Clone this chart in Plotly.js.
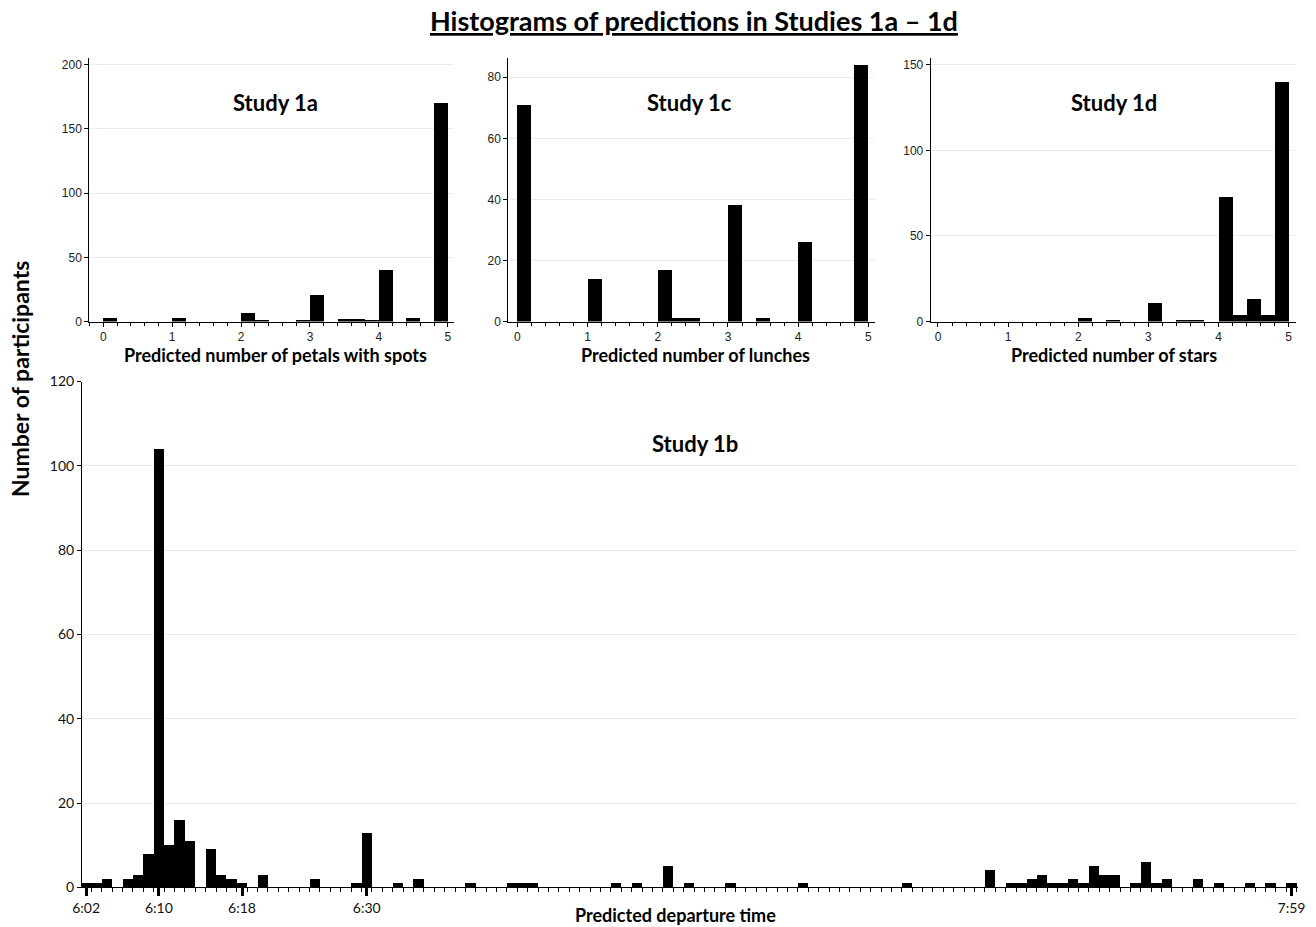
<!DOCTYPE html>
<html>
<head>
<meta charset="utf-8">
<script src="https://cdn.plot.ly/plotly-3.0.1.min.js"></script>
<style>html,body{margin:0;padding:0;background:#fff;}#chart{width:1316px;height:927px;}</style>
</head>
<body>
<div id="chart"></div>
<script>
// ---- Data (bin start values and counts, bin width 0.2) ----
const study1aBins   = [0, 1, 2, 2.2, 2.8, 3, 3.4, 3.6, 3.8, 4, 4.4, 4.8];
const study1aCounts = [3, 3, 7, 1, 1, 21, 2, 2, 1, 40, 3, 170];

const study1cBins   = [0, 1, 2, 2.2, 2.4, 3, 3.4, 4, 4.8];
const study1cCounts = [71, 14, 17, 1, 1, 38, 1, 26, 84];

const study1dBins   = [2, 2.4, 3, 3.4, 3.6, 4, 4.2, 4.4, 4.6, 4.8];
const study1dCounts = [2, 1, 11, 1, 1, 73, 4, 13, 4, 140];

// Study 1b: one-minute bins, first bin labelled 6:02, last 7:59
const study1bCounts = [
  1,1,2,0,2,3,8,104,10,16,
  11,0,9,3,2,1,0,3,0,0,
  0,0,2,0,0,0,1,13,0,0,
  1,0,2,0,0,0,0,1,0,0,
  0,1,1,1,0,0,0,0,0,0,
  0,1,0,1,0,0,5,0,1,0,
  0,0,1,0,0,0,0,0,0,1,
  0,0,0,0,0,0,0,0,0,1,
  0,0,0,0,0,0,0,4,0,1,
  1,2,3,1,1,2,1,5,3,3,
  0,1,6,1,2,0,0,2,0,1,
  0,0,1,0,1,0,1
];
const study1bTickIdx   = [0, 7, 15, 27, 116];
const study1bTickText  = ['6:02', '6:10', '6:18', '6:30', '7:59'];

const binW = 0.2;
const W = 1316, H = 927;
const px = v => v / W;
const py = v => 1 - v / H;

function barTrace(bins, counts, xa, ya) {
  return {
    type: 'bar',
    x: bins.map(b => b + binW / 2),
    y: counts,
    width: bins.map(() => binW),
    marker: {color: '#000', line: {width: 0}},
    xaxis: xa, yaxis: ya,
    hoverinfo: 'x+y', showlegend: false
  };
}

const idx = study1bCounts.map((_, i) => i);
const traces = [
  barTrace(study1aBins, study1aCounts, 'x', 'y'),
  barTrace(study1cBins, study1cCounts, 'x2', 'y2'),
  barTrace(study1dBins, study1dCounts, 'x3', 'y3'),
  {
    type: 'bar', x: idx, y: study1bCounts, width: idx.map(() => 1),
    marker: {color: '#000', line: {width: 0}},
    xaxis: 'x4', yaxis: 'y4', showlegend: false
  }
];

const smallFont = {family: 'Liberation Sans, Arial, sans-serif', size: 12, color: '#222'};
const bigFont = {family: 'Lato, sans-serif', size: 14, color: '#111'};

function topX(domain, range, anchor) {
  return {
    domain: domain, range: range, anchor: anchor,
    showline: true, linecolor: '#000', linewidth: 1,
    ticks: 'outside', ticklen: 4, tickcolor: '#000',
    tickmode: 'linear', tick0: 0, dtick: 1,
    minor: {tickmode: 'linear', tick0: 0, dtick: 0.2, ticks: 'outside', ticklen: 3, tickcolor: '#000'},
    showgrid: false, zeroline: false, tickfont: smallFont, fixedrange: true
  };
}
function topY(domain, range, dtick, anchor) {
  return {
    domain: domain, range: range, anchor: anchor,
    showline: true, linecolor: '#000', linewidth: 1,
    ticks: 'outside', ticklen: 4, tickcolor: '#000',
    tickmode: 'linear', tick0: 0, dtick: dtick,
    showgrid: true, gridcolor: '#ececec', gridwidth: 1,
    zeroline: false, tickfont: smallFont, fixedrange: true
  };
}

const topYDom = [py(321.5), py(58.3)];

function ann(text, x, y, size, extra) {
  return Object.assign({
    text: text, x: px(x), y: py(y), xref: 'paper', yref: 'paper',
    showarrow: false, xanchor: 'center', yanchor: 'middle',
    font: {family: 'Lato, sans-serif', size: size, color: '#000'}
  }, extra || {});
}

const layout = {
  width: W, height: H,
  margin: {l: 0, r: 0, t: 0, b: 0},
  paper_bgcolor: '#fff', plot_bgcolor: '#fff',
  bargap: 0,
  xaxis:  topX([px(89.3), px(454)], [-0.203, 5.09], 'y'),
  yaxis:  topY(topYDom, [0, 205], 50, 'x'),
  xaxis2: topX([px(508.3), px(875)], [-0.13, 5.095], 'y2'),
  yaxis2: topY(topYDom, [0, 86.2], 20, 'x2'),
  xaxis3: topX([px(930.7), px(1296)], [-0.104, 5.105], 'y3'),
  yaxis3: topY(topYDom, [0, 153.9], 50, 'x3'),
  xaxis4: {
    domain: [px(82), px(1298)], range: [-0.4, 116.63], anchor: 'y4',
    showline: true, linecolor: '#000', linewidth: 1,
    tickmode: 'array', tickvals: study1bTickIdx, ticktext: study1bTickText,
    ticks: 'outside', ticklen: 8, tickwidth: 3, tickcolor: '#000',
    minor: {tickmode: 'array', tickvals: idx.map(i => i + 0.5), ticks: 'outside', ticklen: 4, tickwidth: 1, tickcolor: '#000'},
    showgrid: false, zeroline: false, tickfont: bigFont, fixedrange: true
  },
  yaxis4: {
    domain: [py(887.3), py(381.5)], range: [0, 120], anchor: 'x4',
    showline: true, linecolor: '#000', linewidth: 1,
    ticks: 'outside', ticklen: 4, tickcolor: '#000',
    tickmode: 'linear', tick0: 0, dtick: 20,
    showgrid: true, gridcolor: '#ececec', gridwidth: 1,
    zeroline: false, tickfont: bigFont, fixedrange: true
  },
  annotations: [
    ann('<b><u>Histograms of predictions in Studies 1a – 1d</u></b>', 694, 21, 27),
    ann('<b>Number of participants</b>', 20, 379, 23, {textangle: -90}),
    ann('<b>Study 1a</b>', 275, 102, 22),
    ann('<b>Study 1c</b>', 689, 102, 22),
    ann('<b>Study 1d</b>', 1114, 102, 22),
    ann('<b>Study 1b</b>', 695, 443, 22),
    ann('<b>Predicted number of petals with spots</b>', 275, 355, 18),
    ann('<b>Predicted number of lunches</b>', 695, 355, 18),
    ann('<b>Predicted number of stars</b>', 1114, 355, 18),
    ann('<b>Predicted departure time</b>', 675, 915, 18)
  ]
};

Plotly.newPlot('chart', traces, layout, {displayModeBar: false, staticPlot: true});
</script>
</body>
</html>
